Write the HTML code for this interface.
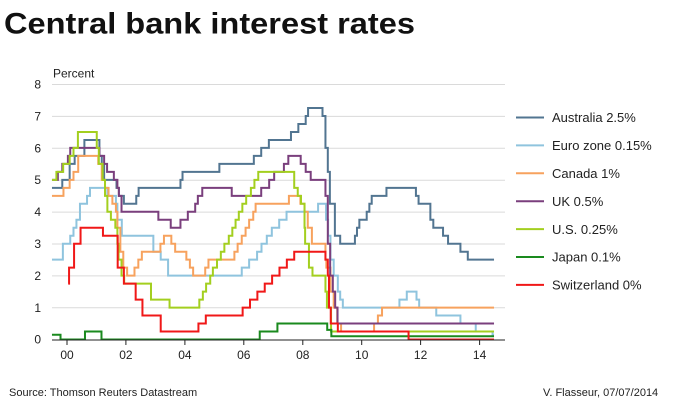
<!DOCTYPE html>
<html><head><meta charset="utf-8"><style>
html,body{margin:0;padding:0;background:#fff;}
svg{display:block;font-family:"Liberation Sans",Arial,sans-serif;}
.s{fill:none;stroke-width:2;vector-effect:non-scaling-stroke;stroke-linejoin:miter;}
</style></head><body>
<svg width="700" height="400" viewBox="0 0 700 400" xmlns="http://www.w3.org/2000/svg">
<rect width="700" height="400" fill="#fff"/>
<text x="4" y="33.5" font-size="30" font-weight="bold" fill="#111" textLength="411" lengthAdjust="spacingAndGlyphs">Central bank interest rates</text>
<text x="53" y="77.3" font-size="12" fill="#222">Percent</text>
<g stroke="#dadada" stroke-width="1">
<line x1="52" x2="505" y1="84.5" y2="84.5"/>
<line x1="52" x2="505" y1="116.4" y2="116.4"/>
<line x1="52" x2="505" y1="148.3" y2="148.3"/>
<line x1="52" x2="505" y1="180.2" y2="180.2"/>
<line x1="52" x2="505" y1="212.1" y2="212.1"/>
<line x1="52" x2="505" y1="244" y2="244"/>
<line x1="52" x2="505" y1="275.9" y2="275.9"/>
<line x1="52" x2="505" y1="307.8" y2="307.8"/>
</g>
<g font-size="12" fill="#222" text-anchor="end">
<text x="41" y="88.5">8</text>
<text x="41" y="120.4">7</text>
<text x="41" y="152.3">6</text>
<text x="41" y="184.2">5</text>
<text x="41" y="216.1">4</text>
<text x="41" y="248">3</text>
<text x="41" y="279.9">2</text>
<text x="41" y="311.8">1</text>
<text x="41" y="343.7">0</text>
</g>
<g transform="translate(67,339.5) scale(29.47,-31.93)">
<path class="s" stroke="#527591" d="M-0.51,4.75 H-0.16 V5 H0.09 V5.5 H0.26 V5.75 H0.59 V6.25 H1.10 V5.75 H1.18 V5.5 H1.26 V5 H1.68 V4.75 H1.76 V4.5 H1.93 V4.25 H2.35 V4.5 H2.43 V4.75 H3.85 V5 H3.92 V5.25 H5.17 V5.5 H6.34 V5.75 H6.59 V6 H6.85 V6.25 H7.60 V6.5 H7.85 V6.75 H8.10 V7 H8.18 V7.25 H8.67 V7 H8.77 V6 H8.85 V5.25 H8.92 V4.25 H9.09 V3.25 H9.27 V3 H9.77 V3.25 H9.84 V3.5 H9.92 V3.75 H10.17 V4 H10.26 V4.25 H10.34 V4.5 H10.84 V4.75 H11.84 V4.5 H11.93 V4.25 H12.33 V3.75 H12.43 V3.5 H12.76 V3.25 H12.93 V3 H13.35 V2.75 H13.60 V2.5 H14.49"/>
<path class="s" stroke="#8fc4de" d="M-0.51,2.5 H-0.14 V3 H0.11 V3.25 H0.22 V3.5 H0.32 V3.75 H0.44 V4.25 H0.68 V4.5 H0.78 V4.75 H1.37 V4.5 H1.66 V4.25 H1.71 V3.75 H1.86 V3.25 H2.93 V2.75 H3.18 V2.5 H3.43 V2 H5.93 V2.25 H6.18 V2.5 H6.45 V2.75 H6.60 V3 H6.78 V3.25 H6.95 V3.5 H7.20 V3.75 H7.45 V4 H8.52 V4.25 H8.79 V3.75 H8.86 V3.25 H8.94 V2.5 H9.05 V2 H9.19 V1.5 H9.27 V1.25 H9.36 V1 H11.28 V1.25 H11.53 V1.5 H11.86 V1.25 H11.95 V1 H12.53 V0.75 H13.35 V0.5 H13.87 V0.25 H14.44 V0.15 H14.49"/>
<path class="s" stroke="#f7a25e" d="M-0.51,4.5 H-0.12 V4.75 H0.09 V5 H0.22 V5.25 H0.38 V5.75 H1.06 V5.5 H1.18 V5 H1.29 V4.75 H1.41 V4.5 H1.54 V4.25 H1.66 V4 H1.71 V3.5 H1.81 V2.75 H1.91 V2.25 H2.04 V2 H2.29 V2.25 H2.42 V2.5 H2.54 V2.75 H3.17 V3 H3.29 V3.25 H3.54 V3 H3.67 V2.75 H4.05 V2.5 H4.17 V2.25 H4.28 V2 H4.69 V2.25 H4.80 V2.5 H5.68 V2.75 H5.79 V3 H5.93 V3.25 H6.06 V3.5 H6.18 V3.75 H6.32 V4 H6.40 V4.25 H7.53 V4.5 H7.92 V4.25 H8.06 V4 H8.17 V3.5 H8.31 V3 H8.77 V2.5 H8.80 V2.25 H8.94 V1.5 H9.05 V1 H9.17 V0.5 H9.30 V0.25 H10.42 V0.5 H10.55 V0.75 H10.69 V1 H14.49"/>
<path class="s" stroke="#7a3f7d" d="M-0.51,5 H-0.31 V5.25 H-0.16 V5.5 H0.03 V5.75 H0.11 V6 H1.10 V5.75 H1.26 V5.5 H1.36 V5.25 H1.59 V5 H1.71 V4.75 H1.76 V4.5 H1.85 V4 H3.10 V3.75 H3.52 V3.5 H3.85 V3.75 H4.10 V4 H4.35 V4.25 H4.44 V4.5 H4.59 V4.75 H5.59 V4.5 H6.59 V4.75 H6.86 V5 H7.03 V5.25 H7.36 V5.5 H7.51 V5.75 H7.93 V5.5 H8.10 V5.25 H8.27 V5 H8.77 V4.5 H8.85 V3 H8.93 V2 H9.02 V1.5 H9.10 V1 H9.18 V0.5 H14.49"/>
<path class="s" stroke="#a3cf1f" d="M-0.51,5 H-0.36 V5.25 H-0.13 V5.5 H0.09 V5.75 H0.22 V6 H0.37 V6.5 H1.01 V6 H1.08 V5.5 H1.21 V5 H1.29 V4.5 H1.37 V4 H1.49 V3.75 H1.64 V3.5 H1.71 V3 H1.75 V2.5 H1.85 V2 H1.94 V1.75 H2.85 V1.25 H3.48 V1 H4.49 V1.25 H4.61 V1.5 H4.72 V1.75 H4.86 V2 H4.95 V2.25 H5.09 V2.5 H5.22 V2.75 H5.34 V3 H5.49 V3.25 H5.61 V3.5 H5.72 V3.75 H5.83 V4 H5.95 V4.25 H6.08 V4.5 H6.24 V4.75 H6.36 V5 H6.49 V5.25 H7.71 V4.75 H7.83 V4.5 H7.94 V4.25 H8.06 V3.5 H8.08 V3 H8.21 V2.25 H8.33 V2 H8.77 V1.5 H8.82 V1 H8.96 V0.25 H14.49"/>
<path class="s" stroke="#1a8a1e" d="M-0.51,0.15 H-0.22 V0 H0.61 V0.25 H1.17 V0 H6.54 V0.25 H7.14 V0.5 H8.83 V0.3 H8.97 V0.1 H14.49"/>
<path class="s" stroke="#f01818" d="M0.04,1.75 H0.07 V2.25 H0.24 V3 H0.46 V3.5 H1.22 V3.25 H1.72 V2.25 H1.93 V1.75 H2.33 V1.25 H2.56 V0.75 H3.18 V0.25 H4.46 V0.5 H4.71 V0.75 H5.96 V1 H6.21 V1.25 H6.46 V1.5 H6.71 V1.75 H6.96 V2 H7.21 V2.25 H7.46 V2.5 H7.71 V2.75 H8.77 V2.5 H8.85 V2 H8.89 V1 H8.95 V0.5 H9.19 V0.25 H11.59 V0 H14.49"/>
</g>
<line x1="52" x2="505" y1="340" y2="340" stroke="#222" stroke-width="1"/>
<g stroke="#222" stroke-width="1">
<line x1="67" x2="67" y1="340" y2="345"/>
<line x1="125.9" x2="125.9" y1="340" y2="345"/>
<line x1="184.9" x2="184.9" y1="340" y2="345"/>
<line x1="243.8" x2="243.8" y1="340" y2="345"/>
<line x1="302.8" x2="302.8" y1="340" y2="345"/>
<line x1="361.7" x2="361.7" y1="340" y2="345"/>
<line x1="420.6" x2="420.6" y1="340" y2="345"/>
<line x1="479.6" x2="479.6" y1="340" y2="345"/>
</g>
<g font-size="12" fill="#222" text-anchor="middle">
<text x="67" y="359">00</text>
<text x="125.9" y="359">02</text>
<text x="184.9" y="359">04</text>
<text x="243.8" y="359">06</text>
<text x="302.8" y="359">08</text>
<text x="361.7" y="359">10</text>
<text x="420.6" y="359">12</text>
<text x="479.6" y="359">14</text>
</g>
<g stroke-width="2">
<line x1="516" x2="544" y1="117.5" y2="117.5" stroke="#527591"/>
<line x1="516" x2="544" y1="145.4" y2="145.4" stroke="#8fc4de"/>
<line x1="516" x2="544" y1="173.3" y2="173.3" stroke="#f7a25e"/>
<line x1="516" x2="544" y1="201.2" y2="201.2" stroke="#7a3f7d"/>
<line x1="516" x2="544" y1="229.1" y2="229.1" stroke="#a3cf1f"/>
<line x1="516" x2="544" y1="257" y2="257" stroke="#1a8a1e"/>
<line x1="516" x2="544" y1="284.9" y2="284.9" stroke="#f01818"/>
</g>
<g font-size="13" fill="#222">
<text x="552" y="122.2">Australia 2.5%</text>
<text x="552" y="150.1">Euro zone 0.15%</text>
<text x="552" y="178">Canada 1%</text>
<text x="552" y="205.9">UK 0.5%</text>
<text x="552" y="233.8">U.S. 0.25%</text>
<text x="552" y="261.7">Japan 0.1%</text>
<text x="552" y="289.6">Switzerland 0%</text>
</g>
<text x="9" y="396" font-size="11" fill="#222">Source: Thomson Reuters Datastream</text>
<text x="543" y="396" font-size="11" fill="#222">V. Flasseur, 07/07/2014</text>
</svg>
</body></html>
